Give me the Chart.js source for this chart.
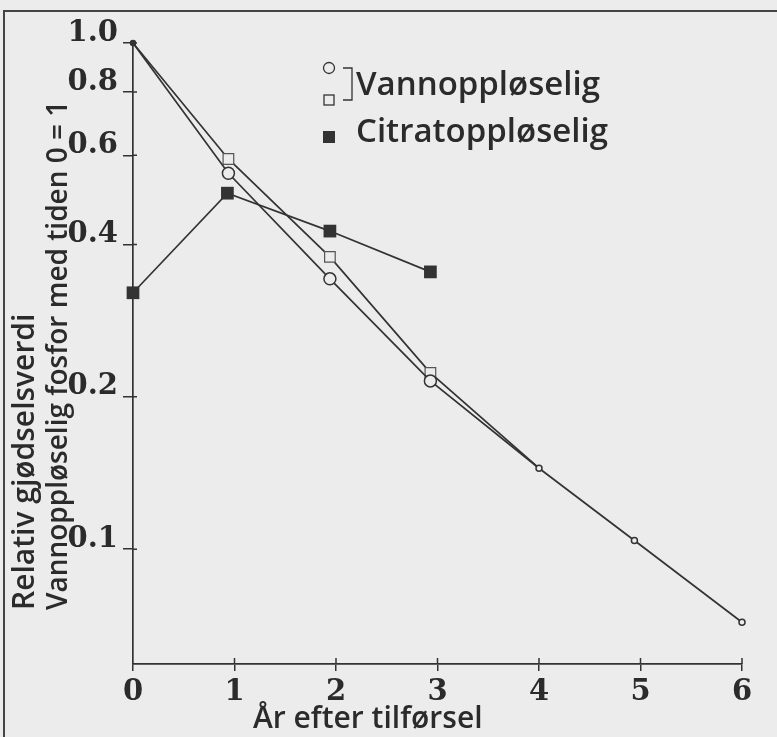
<!DOCTYPE html>
<html>
<head>
<meta charset="utf-8">
<script src="https://cdn.jsdelivr.net/npm/chart.js@4.4.1/dist/chart.umd.min.js"></script>
<style>
  html, body { margin: 0; padding: 0; background: #ececec; }
  canvas { display: block; }
</style>
</head>
<body>
<canvas id="myChart" width="777" height="737"></canvas>
<script>
// data (log y scale)
var yearsCircle = [0, 0.94, 1.94, 2.93, 4, 4.94, 6];
var vannCircle = [1.0, 0.553, 0.342, 0.215, 0.1445, 0.104, 0.0717];
var yearsSquare = [0, 0.94, 1.94, 2.93, 4];
var vannSquare = [1.0, 0.590, 0.378, 0.223, 0.1445];
var yearsCitrat = [0, 0.93, 1.94, 2.93];
var citrat = [0.321, 0.505, 0.425, 0.353];
var yTicks = [0.1, 0.2, 0.4, 0.6, 0.8, 1.0];
var xTicks = [0, 1, 2, 3, 4, 5, 6];

var ink = '#333333';
var bg = '#ececec';
var textFont = '"Open Sans", sans-serif';
var tickFont = '"DejaVu Serif", serif';

function toPoints(xs, ys) {
    return xs.map(function (x, i) { return { x: x, y: ys[i] }; });
}

var decor = {
    id: 'decor',
    beforeDraw: function (chart) {
        var ctx = chart.ctx;
        ctx.save();
        ctx.fillStyle = bg;
        ctx.fillRect(0, 0, chart.width, chart.height);
        ctx.strokeStyle = '#444';
        ctx.lineWidth = 2;
        ctx.beginPath();
        ctx.moveTo(4, 740);
        ctx.lineTo(4, 11);
        ctx.lineTo(777, 11);
        ctx.stroke();
        ctx.restore();
    },
    afterDraw: function (chart) {
        var ctx = chart.ctx;
        var xs = chart.scales.x, ys = chart.scales.y;
        ctx.save();
        // inner parts of the tick marks
        ctx.strokeStyle = ink;
        ctx.lineWidth = 1.5;
        ctx.beginPath();
        xTicks.forEach(function (v) {
            if (v === 0) return;
            var px = xs.getPixelForValue(v);
            ctx.moveTo(px, ys.bottom);
            ctx.lineTo(px, ys.bottom - 6);
        });
        yTicks.forEach(function (v) {
            var py = ys.getPixelForValue(v);
            ctx.moveTo(xs.left, py);
            ctx.lineTo(xs.left + 4, py);
        });
        ctx.stroke();

        ctx.fillStyle = '#2b2b2b';
        // x title
        ctx.font = '600 30px ' + textFont;
        ctx.textAlign = 'left';
        ctx.textBaseline = 'alphabetic';
        ctx.fillText('År efter tilførsel', 253, 728);

        // y title, two lines reading upward
        ctx.save();
        ctx.translate(34, 610);
        ctx.rotate(-Math.PI / 2);
        ctx.font = '600 30px ' + textFont;
        ctx.fillText('Relativ gjødselsverdi', 0, 0);
        ctx.font = '600 28px ' + textFont;
        ctx.fillText('Vannoppløselig fosfor med tiden 0 = 1', 0, 33);
        ctx.restore();

        // legend
        ctx.strokeStyle = ink;
        ctx.lineWidth = 1.3;
        ctx.beginPath();
        ctx.arc(329, 68, 5.5, 0, Math.PI * 2);
        ctx.stroke();
        ctx.strokeRect(324, 95, 10, 10);
        ctx.beginPath();
        ctx.moveTo(343, 68);
        ctx.lineTo(352, 68);
        ctx.lineTo(352, 100);
        ctx.lineTo(343, 100);
        ctx.stroke();
        ctx.fillStyle = ink;
        ctx.fillRect(323, 131, 12, 12);
        ctx.fillStyle = '#2b2b2b';
        ctx.font = '600 33px ' + textFont;
        ctx.fillText('Vannoppløselig', 356, 95);
        ctx.fillText('Citratoppløselig', 356, 142);
        ctx.restore();
    }
};

var ctx = document.getElementById('myChart').getContext('2d');
var chart = new Chart(ctx, {
    type: 'scatter',
    data: {
        datasets: [
            {
                label: 'Vannoppløselig (sirkel)',
                data: toPoints(yearsCircle, vannCircle),
                showLine: true,
                borderColor: ink,
                borderWidth: 1.7,
                pointStyle: 'circle',
                pointRadius: [2.5, 6, 6, 6, 3, 3, 3],
                pointBorderWidth: 1.5,
                pointBorderColor: ink,
                pointBackgroundColor: [ink, bg, bg, bg, bg, bg, bg],
                clip: false
            },
            {
                label: 'Vannoppløselig (kvadrat)',
                data: toPoints(yearsSquare, vannSquare),
                showLine: true,
                borderColor: ink,
                borderWidth: 1.7,
                pointStyle: 'rect',
                pointRadius: [0, 7.5, 7.5, 7.5, 0],
                pointBorderWidth: 1.2,
                pointBorderColor: '#555',
                pointBackgroundColor: bg,
                clip: false
            },
            {
                label: 'Citratoppløselig',
                data: toPoints(yearsCitrat, citrat),
                showLine: true,
                borderColor: ink,
                borderWidth: 1.7,
                pointStyle: 'rect',
                pointRadius: 9,
                pointBorderWidth: 0,
                pointBackgroundColor: ink,
                clip: false
            }
        ]
    },
    options: {
        responsive: false,
        animation: false,
        layout: { padding: { left: 0, top: 43, right: 35, bottom: 0 } },
        plugins: {
            legend: { display: false },
            tooltip: { enabled: false }
        },
        scales: {
            x: {
                type: 'linear',
                min: 0,
                max: 6,
                afterFit: function (scale) { scale.height = 73; },
                afterBuildTicks: function (scale) {
                    scale.ticks = xTicks.map(function (v) { return { value: v }; });
                },
                ticks: {
                    color: '#2b2b2b',
                    font: { family: tickFont, size: 29, weight: 'bold' },
                    padding: 4,
                    maxRotation: 0,
                    callback: function (v) { return String(v); }
                },
                grid: {
                    drawOnChartArea: false,
                    drawTicks: true,
                    tickLength: 7,
                    color: ink,
                    lineWidth: 1.5
                },
                border: { display: true, color: ink, width: 1.7 }
            },
            y: {
                type: 'logarithmic',
                min: 0.0593,
                max: 1.0,
                bounds: 'data',
                afterFit: function (scale) { scale.width = 133; },
                afterBuildTicks: function (scale) {
                    scale.ticks = yTicks.map(function (v) { return { value: v }; });
                },
                ticks: {
                    color: '#2b2b2b',
                    font: { family: tickFont, size: 29, weight: 'bold' },
                    padding: 5,
                    labelOffset: -10,
                    callback: function (v) { return Number(v).toFixed(1); }
                },
                grid: {
                    drawOnChartArea: false,
                    drawTicks: true,
                    tickLength: 10,
                    color: ink,
                    lineWidth: 1.5
                },
                border: { display: true, color: ink, width: 1.7 }
            }
        }
    },
    plugins: [decor]
});
</script>
</body>
</html>
